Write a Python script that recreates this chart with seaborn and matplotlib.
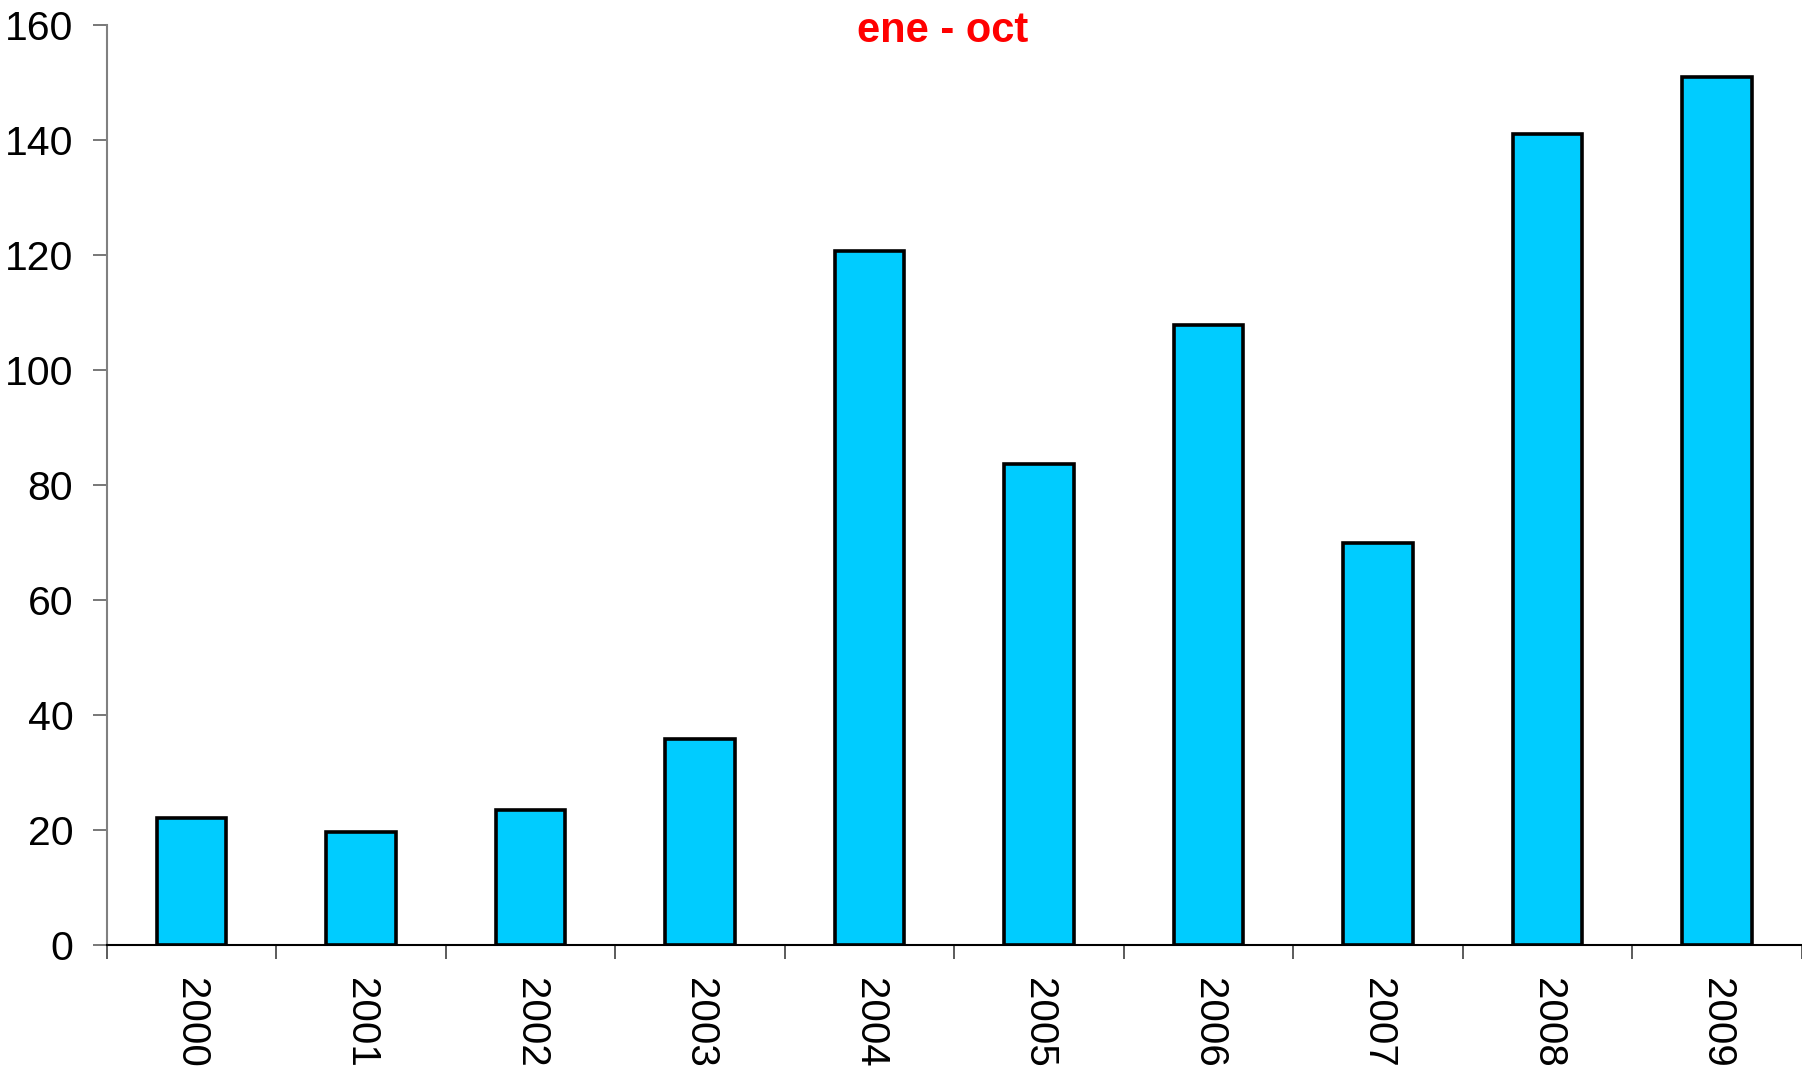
import matplotlib
matplotlib.use('Agg')
import matplotlib.pyplot as plt
import seaborn as sns
import pandas as pd
import numpy as np

# Data
years = ['2000', '2001', '2002', '2003', '2004', '2005', '2006', '2007', '2008', '2009']
values = [22.0, 19.6, 23.4, 35.8, 120.7, 83.7, 107.9, 69.9, 141.0, 151.0]
title_text = 'ene - oct'

df = pd.DataFrame({'year': years, 'value': values})

sns.set_style('white')
plt.rcParams['font.family'] = ['Liberation Sans', 'DejaVu Sans']

fig = plt.figure(figsize=(18.02, 10.68), dpi=100)
ax = fig.add_axes([0.0592, 0.1152, 0.9408, 0.8614])

sns.barplot(data=df, x='year', y='value', color='#00CCFF', saturation=1,
            width=0.41, edgecolor='black', linewidth=2.6, ax=ax)

ax.set_xlim(-0.5, 9.5)
ax.set_ylim(0, 160)
ax.set_yticks(np.arange(0, 161, 20))
ax.set_xlabel('')
ax.set_ylabel('')

# category separators as minor ticks, labels centred
ax.set_xticks(np.arange(-0.5, 9.6, 1), minor=True)
ax.tick_params(axis='x', which='minor', length=10, width=1.2, color='#404040',
               direction='out', bottom=True)
ax.tick_params(axis='x', which='major', length=0, pad=24, labelsize=29,
               labelrotation=-90, labelcolor='black')
ax.tick_params(axis='y', which='major', length=10, width=1.2, color='#606060',
               direction='out', left=True, pad=14, labelsize=29.5,
               labelcolor='black')

for s in ['top', 'right']:
    ax.spines[s].set_visible(False)
ax.spines['left'].set_color('#808080')
ax.spines['left'].set_linewidth(1.5)
ax.spines['bottom'].set_color('black')
ax.spines['bottom'].set_linewidth(1.5)

fig.text(0.523, 0.971, title_text, color='red', fontsize=30, fontweight='bold',
         ha='center', va='center')

fig.savefig('out.png', dpi=100)
